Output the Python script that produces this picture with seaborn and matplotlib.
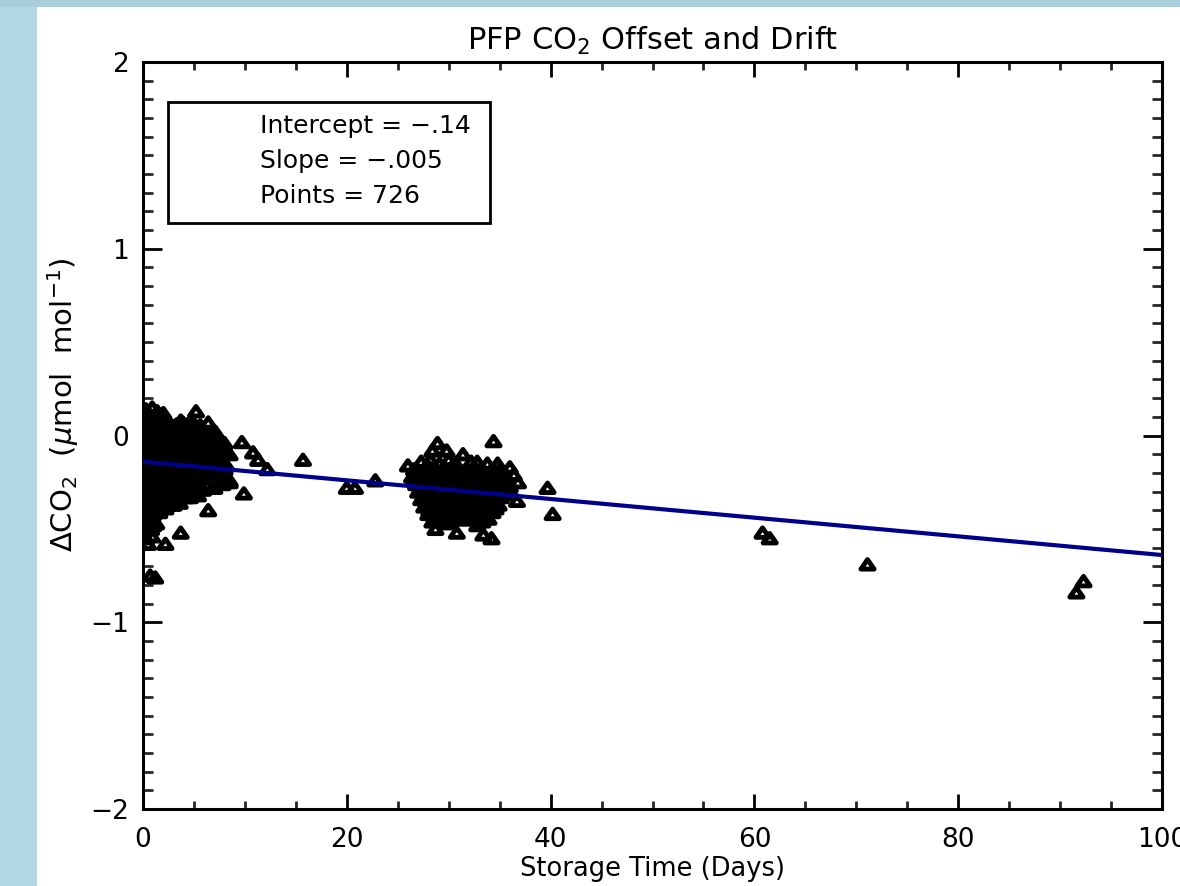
import numpy as np
import pandas as pd
import matplotlib
matplotlib.use("Agg")
import matplotlib.pyplot as plt
from matplotlib.patches import Rectangle
from matplotlib.path import Path
from matplotlib.markers import MarkerStyle
import seaborn as sns

# ---------------- data ----------------
title = "PFP CO$_2$ Offset and Drift"
xlabel = "Storage Time (Days)"
ylabel = r"$\Delta$CO$_2$  ($\mu$mol  mol$^{-1}$)"
x_ticks = [0, 20, 40, 60, 80, 100]
y_ticks = [-2, -1, 0, 1, 2]
fit_intercept = -0.14
fit_slope = -0.005
n_points_label = 726

# early cluster (days 0-16)
early_points = [
    (0.3, 0.14), (0.9, 0.15), (1.4, 0.13), (2.0, 0.12),
    (0.1, 0.09), (0.6, 0.10), (1.2, 0.08), (1.8, 0.09), (2.4, 0.07), (3.7, 0.08),
    (4.3, 0.06), (4.9, 0.07), (5.2, 0.13), (6.4, 0.07),
    (0.2, 0.04), (0.8, 0.05), (1.3, 0.03), (1.9, 0.04), (2.5, 0.02), (3.0, 0.05),
    (3.6, 0.03), (4.1, 0.04), (4.7, 0.02), (5.3, 0.04), (5.9, 0.03), (6.5, 0.01), (7.1, 0.02),
    (0.1, -0.01), (0.7, 0.00), (1.2, -0.02), (1.8, -0.01), (2.3, 0.00), (2.9, -0.02),
    (3.5, -0.01), (4.0, -0.03), (4.6, -0.01), (5.1, -0.02), (5.7, 0.00), (6.3, -0.03),
    (6.8, -0.01), (7.4, -0.02), (8.0, -0.04),
    (0.3, -0.06), (0.9, -0.05), (1.5, -0.07), (2.0, -0.06), (2.6, -0.05), (3.2, -0.07),
    (3.8, -0.06), (4.3, -0.08), (4.9, -0.05), (5.5, -0.07), (6.0, -0.06), (6.6, -0.08),
    (7.2, -0.06), (7.7, -0.07),
    (0.1, -0.11), (0.6, -0.10), (1.2, -0.12), (1.7, -0.11), (2.3, -0.10), (2.8, -0.12),
    (3.4, -0.11), (4.0, -0.13), (4.5, -0.10), (5.1, -0.12), (5.6, -0.11), (6.2, -0.13),
    (6.8, -0.10), (7.3, -0.12),
    (0.3, -0.16), (0.8, -0.15), (1.4, -0.17), (1.9, -0.16), (2.5, -0.15), (3.1, -0.17),
    (3.6, -0.16), (4.2, -0.18), (4.7, -0.15), (5.3, -0.17), (5.9, -0.16), (6.4, -0.18),
    (7.0, -0.15), (7.6, -0.17), (8.2, -0.16),
    (0.1, -0.21), (0.7, -0.20), (1.2, -0.22), (1.8, -0.21), (2.3, -0.20), (2.9, -0.22),
    (3.4, -0.21), (4.0, -0.23), (4.6, -0.20), (5.2, -0.22), (5.8, -0.21), (6.5, -0.23),
    (7.2, -0.20), (7.9, -0.22), (8.5, -0.24),
    (0.3, -0.26), (0.8, -0.25), (1.4, -0.27), (1.9, -0.26), (2.5, -0.25), (3.0, -0.27),
    (3.6, -0.26), (4.1, -0.28), (4.8, -0.25), (5.5, -0.27), (6.2, -0.26), (7.0, -0.28),
    (7.8, -0.26), (8.5, -0.25),
    (0.1, -0.31), (0.6, -0.30), (1.2, -0.32), (1.7, -0.31), (2.3, -0.30), (2.8, -0.32),
    (3.4, -0.31), (4.2, -0.33), (4.8, -0.30), (5.4, -0.32), (5.9, -0.29), (9.9, -0.31),
    (0.3, -0.36), (0.8, -0.35), (1.3, -0.37), (1.9, -0.36), (2.4, -0.35), (3.0, -0.37),
    (3.6, -0.36), (4.6, -0.33), (6.4, -0.40),
    (0.1, -0.41), (0.5, -0.40), (1.0, -0.42), (1.6, -0.41), (2.2, -0.39), (2.9, -0.37),
    (0.2, -0.46), (0.7, -0.45), (1.3, -0.47),
    (0.1, -0.51), (0.8, -0.50), (3.7, -0.52),
    (0.3, -0.55), (0.9, -0.54), (0.5, -0.58), (2.2, -0.58),
    (0.7, -0.75), (1.2, -0.76),
    (8.5, -0.10), (9.7, -0.035), (10.8, -0.09), (11.3, -0.13), (12.2, -0.18), (15.7, -0.13),
]

# early cluster, densely overlapping interior
early_core_points = [
    (0.4, 0.065), (1.0, 0.07), (1.5, 0.06), (2.1, 0.065), (2.8, 0.055), (3.3, 0.06),
    (3.9, 0.07), (4.5, 0.05), (5.0, 0.06), (5.6, 0.055),
    (0.5, 0.015), (1.0, 0.02), (1.6, 0.01), (2.2, 0.015), (2.7, 0.025), (3.3, 0.01),
    (3.8, 0.02), (4.4, 0.005), (4.9, 0.015), (5.5, 0.02), (6.1, 0.01), (6.7, 0.02), (7.3, 0.00),
    (0.4, -0.035), (1.0, -0.03), (1.5, -0.04), (2.1, -0.035), (2.6, -0.025), (3.2, -0.04),
    (3.7, -0.03), (4.3, -0.045), (4.8, -0.035), (5.4, -0.03), (6.0, -0.04), (6.5, -0.035),
    (7.1, -0.045), (7.7, -0.03),
    (0.5, -0.085), (1.0, -0.08), (1.6, -0.09), (2.2, -0.085), (2.7, -0.075), (3.3, -0.09),
    (3.9, -0.08), (4.4, -0.095), (5.0, -0.085), (5.5, -0.08), (6.1, -0.09), (6.7, -0.085),
    (7.2, -0.095), (7.9, -0.08),
    (0.4, -0.135), (0.9, -0.13), (1.5, -0.14), (2.0, -0.135), (2.6, -0.125), (3.1, -0.14),
    (3.7, -0.13), (4.3, -0.145), (4.8, -0.135), (5.4, -0.13), (6.0, -0.14), (6.5, -0.135),
    (7.1, -0.145), (7.7, -0.13),
    (0.5, -0.185), (1.0, -0.18), (1.6, -0.19), (2.1, -0.185), (2.7, -0.175), (3.3, -0.19),
    (3.8, -0.18), (4.4, -0.195), (5.0, -0.185), (5.6, -0.18), (6.1, -0.19), (6.8, -0.185),
    (7.4, -0.195), (8.0, -0.18),
    (0.4, -0.235), (1.0, -0.23), (1.5, -0.24), (2.1, -0.235), (2.6, -0.225), (3.2, -0.24),
    (3.8, -0.23), (4.3, -0.245), (5.0, -0.235), (5.6, -0.23),
    (0.5, -0.285), (1.1, -0.28), (1.6, -0.29), (2.2, -0.285), (2.7, -0.275), (3.3, -0.29),
    (3.9, -0.28),
    (0.4, -0.335), (0.9, -0.33), (1.5, -0.34), (2.0, -0.335), (2.6, -0.325), (3.1, -0.34),
    (0.3, -0.385), (0.8, -0.38), (1.3, -0.39), (1.9, -0.385),
    (0.4, -0.435), (0.9, -0.43),
    (0.4, -0.485), (1.0, -0.48),
]

# mid cluster (days 20-41)
mid_points = [
    (20.0, -0.28), (20.8, -0.28), (22.8, -0.24),
    (28.9, -0.04), (34.4, -0.03),
    (28.4, -0.08), (29.8, -0.08), (31.4, -0.10),
    (26.0, -0.16), (27.3, -0.14), (28.2, -0.13), (29.1, -0.15), (30.0, -0.13), (30.7, -0.15),
    (32.2, -0.14), (32.8, -0.14), (33.8, -0.15), (34.8, -0.15),
    (26.6, -0.18), (27.4, -0.19), (28.1, -0.17), (28.8, -0.18), (29.6, -0.19), (30.3, -0.17),
    (31.0, -0.18), (31.8, -0.19), (32.5, -0.17), (33.3, -0.18), (34.1, -0.19), (35.0, -0.18),
    (36.0, -0.17),
    (26.4, -0.22), (27.1, -0.23), (27.8, -0.21), (28.5, -0.22), (29.2, -0.23), (29.9, -0.21),
    (30.6, -0.22), (31.3, -0.23), (32.0, -0.21), (32.7, -0.22), (33.4, -0.23), (34.1, -0.21),
    (34.8, -0.22), (35.5, -0.23), (36.4, -0.21),
    (26.8, -0.26), (27.5, -0.27), (28.2, -0.25), (28.9, -0.26), (29.6, -0.27), (30.3, -0.25),
    (31.0, -0.26), (31.7, -0.27), (32.4, -0.25), (33.1, -0.26), (33.8, -0.27), (34.5, -0.25),
    (35.2, -0.26), (36.0, -0.27), (36.8, -0.25),
    (27.0, -0.30), (27.7, -0.31), (28.4, -0.29), (29.1, -0.30), (29.8, -0.31), (30.5, -0.29),
    (31.2, -0.30), (31.9, -0.31), (32.6, -0.29), (33.3, -0.30), (34.0, -0.31), (34.7, -0.29),
    (35.5, -0.30), (36.2, -0.31),
    (27.3, -0.34), (28.0, -0.35), (28.7, -0.33), (29.4, -0.34), (30.1, -0.35), (30.8, -0.33),
    (31.5, -0.34), (32.2, -0.35), (32.9, -0.33), (33.6, -0.34), (34.3, -0.35), (35.1, -0.33),
    (36.7, -0.35),
    (27.6, -0.38), (28.3, -0.39), (29.0, -0.37), (29.7, -0.38), (30.4, -0.39), (31.1, -0.37),
    (31.8, -0.38), (32.5, -0.39), (33.2, -0.37), (33.9, -0.38), (34.6, -0.39),
    (28.0, -0.42), (28.8, -0.43), (29.6, -0.41), (30.4, -0.42), (31.2, -0.43), (32.0, -0.41),
    (32.8, -0.42), (33.6, -0.43), (34.3, -0.41),
    (28.4, -0.46), (29.5, -0.45), (30.1, -0.47), (31.4, -0.45), (32.8, -0.48), (33.3, -0.46),
    (28.7, -0.50), (30.8, -0.52), (33.4, -0.53), (34.2, -0.55),
    (39.7, -0.28), (40.2, -0.42),
]

# mid cluster, densely overlapping interior
mid_core_points = [
    (27.0, -0.20), (27.7, -0.205), (28.4, -0.195), (29.1, -0.20), (29.8, -0.21), (30.5, -0.195),
    (31.2, -0.20), (31.9, -0.205), (32.6, -0.195), (33.3, -0.20), (34.0, -0.21), (34.7, -0.195),
    (35.4, -0.20),
    (26.6, -0.24), (27.3, -0.245), (28.0, -0.235), (28.7, -0.24), (29.4, -0.25), (30.1, -0.235),
    (30.8, -0.24), (31.5, -0.245), (32.2, -0.235), (32.9, -0.24), (33.6, -0.25), (34.3, -0.235),
    (35.0, -0.24), (35.8, -0.245),
    (27.2, -0.28), (27.9, -0.285), (28.6, -0.275), (29.3, -0.28), (30.0, -0.29), (30.7, -0.275),
    (31.4, -0.28), (32.1, -0.285), (32.8, -0.275), (33.5, -0.28), (34.2, -0.29), (34.9, -0.275),
    (35.7, -0.28),
    (27.5, -0.32), (28.2, -0.325), (28.9, -0.315), (29.6, -0.32), (30.3, -0.33), (31.0, -0.315),
    (31.7, -0.32), (32.4, -0.325), (33.1, -0.315), (33.8, -0.32), (34.5, -0.33), (35.3, -0.315),
    (27.8, -0.36), (28.5, -0.365), (29.2, -0.355), (29.9, -0.36), (30.6, -0.37), (31.3, -0.355),
    (32.0, -0.36), (32.7, -0.365), (33.4, -0.355), (34.1, -0.36), (34.9, -0.37),
    (28.1, -0.40), (28.9, -0.405), (29.7, -0.395), (30.5, -0.40), (31.3, -0.41), (32.1, -0.395),
    (32.9, -0.40), (33.7, -0.405),
    (28.6, -0.44), (29.9, -0.445), (31.0, -0.435), (32.4, -0.44), (33.9, -0.445),
]

# late points (days > 60)
late_points = [
    (60.8, -0.52), (61.5, -0.55), (71.1, -0.69), (91.6, -0.84), (92.3, -0.78),
]

# ---------------- build frame ----------------
all_pts = early_points + early_core_points + mid_points + mid_core_points + late_points
df = pd.DataFrame(all_pts, columns=["days", "dco2"])
fit_x = np.array([x_ticks[0], x_ticks[-1]], dtype=float)
fit_df = pd.DataFrame({"days": fit_x, "dco2": fit_intercept + fit_slope * fit_x})

# ---------------- figure ----------------
sns.set_theme(style="white")
plt.rcParams["font.family"] = ["DejaVu Sans"]
plt.rcParams["mathtext.fontset"] = "dejavusans"

W, H = 1180, 886
fig = plt.figure(figsize=(W / 100, H / 100), dpi=100)
fig.patch.set_facecolor("#b3d8e3")
top_band = Rectangle((0, (H - 7) / H), 1, 7 / H, transform=fig.transFigure,
                     facecolor="#a9cdd9", edgecolor="none", zorder=-11)
fig.add_artist(top_band)
bg = Rectangle((37 / W, 0), 1 - 37 / W, (H - 7) / H,
               transform=fig.transFigure, facecolor="white",
               edgecolor="none", zorder=-10)
fig.add_artist(bg)

ax = fig.add_axes([143 / W, 1 - 809 / H, (1162 - 143) / W, (809 - 62) / H])
ax.set_zorder(1)
ax.set_facecolor("white")

tri = MarkerStyle(Path([(-1.0, -0.72), (1.0, -0.72), (0.0, 0.72), (-1.0, -0.72)],
                       [Path.MOVETO, Path.LINETO, Path.LINETO, Path.CLOSEPOLY]))

sns.scatterplot(data=df, x="days", y="dco2", ax=ax, marker=tri, s=90,
                facecolor="none", edgecolor="black", linewidth=3.5, zorder=2,
                legend=False)
sns.lineplot(data=fit_df, x="days", y="dco2", ax=ax, color="#00008c",
             linewidth=3.0, zorder=3, legend=False)

ax.set_xlim(0, 100)
ax.set_ylim(-2, 2)
ax.set_xticks(x_ticks)
ax.set_yticks(y_ticks)
ax.set_xticks(np.arange(0, 101, 5), minor=True)
ax.set_yticks(np.arange(-2, 2.01, 0.1), minor=True)

for s in ax.spines.values():
    s.set_color("black")
    s.set_linewidth(2.2)
    s.set_visible(True)

ax.tick_params(axis="x", which="major", direction="in", length=11, width=2.0,
               top=True, bottom=True, labelsize=19, pad=13, colors="black")
ax.tick_params(axis="x", which="minor", direction="in", length=6, width=2.0,
               top=True, bottom=True)
ax.tick_params(axis="y", which="major", direction="in", length=14, width=2.0,
               left=True, right=True, labelsize=19, pad=10, colors="black")
ax.tick_params(axis="y", which="minor", direction="in", length=7, width=2.0,
               left=True, right=True)

ax.set_title(title, fontsize=22, pad=9, color="black")
ax.set_xlabel(xlabel, fontsize=18.5, labelpad=2, color="black")
ax.set_ylabel(ylabel, fontsize=21, color="black")
ax.yaxis.set_label_coords((81 - 143) / 1019, (809 - 405) / 747)

# annotation box
box_x0, box_x1 = (168 - 143) / 1019, (490 - 143) / 1019
box_y0, box_y1 = (809 - 223) / 747, (809 - 102) / 747
ax.add_patch(Rectangle((box_x0, box_y0), box_x1 - box_x0, box_y1 - box_y0,
                       transform=ax.transAxes, facecolor="white",
                       edgecolor="black", linewidth=2.0, zorder=4))
lines = [f"Intercept = \u2212{abs(fit_intercept):.2f}".replace("0.", "."),
         f"Slope = \u2212{abs(fit_slope):.3f}".replace("0.", "."),
         f"Points = {n_points_label}"]
for i, t in enumerate(lines):
    ax.text((260 - 143) / 1019, (809 - (126 + 35 * i)) / 747, t,
            transform=ax.transAxes, fontsize=18, va="center", ha="left",
            color="black", zorder=5)

fig.savefig("out.png", dpi=100, facecolor=fig.get_facecolor())
